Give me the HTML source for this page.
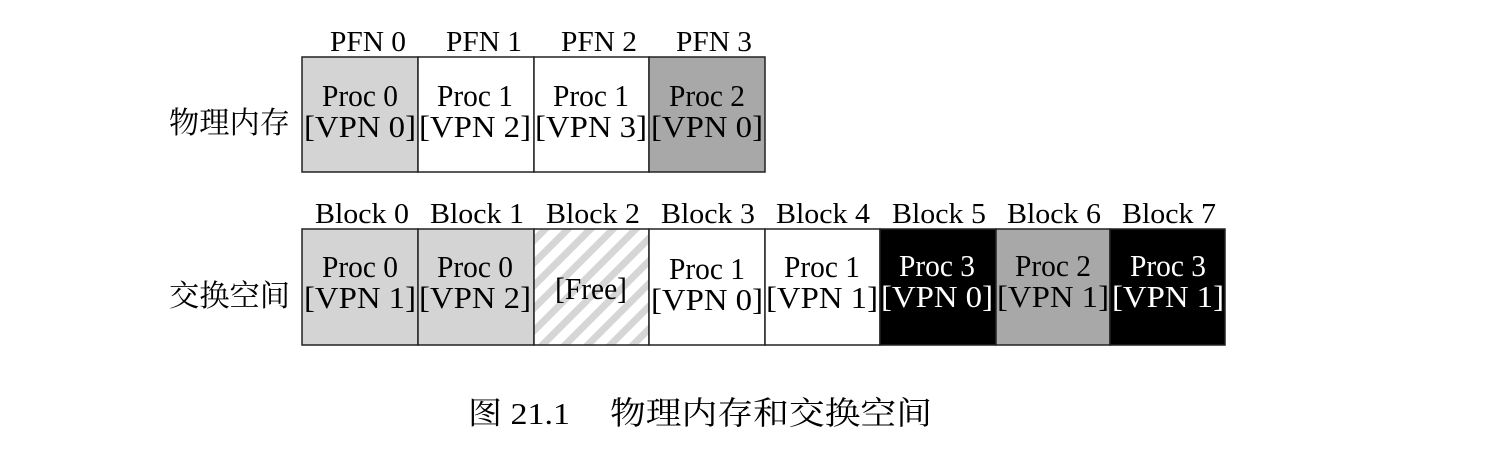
<!DOCTYPE html>
<html><head><meta charset="utf-8"><style>
html,body{margin:0;padding:0;background:#fff;}
svg{display:block;}
text{font-family:"Liberation Serif","Noto Serif CJK SC",serif;fill:#000;}
.c{font-family:"Liberation Serif","Noto Serif CJK SC","Noto Sans CJK SC",serif;}
</style></head><body>
<svg width="1507" height="462" viewBox="0 0 1507 462" xmlns="http://www.w3.org/2000/svg">
<defs>
<pattern id="st" patternUnits="userSpaceOnUse" width="16" height="16" patternTransform="rotate(45)">
<rect width="16" height="16" fill="#fff"/><rect width="7" height="16" fill="#d6d6d6"/>
</pattern>
</defs>
<g font-size="28" text-anchor="middle" lengthAdjust="spacingAndGlyphs">
<text x="368" y="51" textLength="76" lengthAdjust="spacingAndGlyphs">PFN 0</text>
<text x="484" y="51" textLength="76" lengthAdjust="spacingAndGlyphs">PFN 1</text>
<text x="599" y="51" textLength="76" lengthAdjust="spacingAndGlyphs">PFN 2</text>
<text x="714" y="51" textLength="76" lengthAdjust="spacingAndGlyphs">PFN 3</text>
</g>
<g stroke="#222" stroke-width="1.5">
<rect x="302" y="57" width="116" height="115" fill="#d4d4d4"/>
<rect x="418" y="57" width="116" height="115" fill="#fff"/>
<rect x="534" y="57" width="115" height="115" fill="#fff"/>
<rect x="649" y="57" width="116" height="115" fill="#a8a8a8"/>
</g>
<g font-size="31" text-anchor="middle">
<text x="360" y="106" textLength="76" lengthAdjust="spacingAndGlyphs">Proc 0</text><text x="360" y="137" textLength="112" lengthAdjust="spacingAndGlyphs">[VPN 0]</text>
<text x="475" y="106" textLength="76" lengthAdjust="spacingAndGlyphs">Proc 1</text><text x="475" y="137" textLength="112" lengthAdjust="spacingAndGlyphs">[VPN 2]</text>
<text x="591" y="106" textLength="76" lengthAdjust="spacingAndGlyphs">Proc 1</text><text x="591" y="137" textLength="112" lengthAdjust="spacingAndGlyphs">[VPN 3]</text>
<text x="707" y="106" textLength="76" lengthAdjust="spacingAndGlyphs">Proc 2</text><text x="707" y="137" textLength="112" lengthAdjust="spacingAndGlyphs">[VPN 0]</text>
</g>
<text class="c" x="169" y="133" font-size="30" textLength="121" lengthAdjust="spacingAndGlyphs">物理内存</text>
<g font-size="28" text-anchor="middle">
<text x="362" y="223" textLength="94" lengthAdjust="spacingAndGlyphs">Block 0</text>
<text x="477" y="223" textLength="94" lengthAdjust="spacingAndGlyphs">Block 1</text>
<text x="593" y="223" textLength="94" lengthAdjust="spacingAndGlyphs">Block 2</text>
<text x="708" y="223" textLength="94" lengthAdjust="spacingAndGlyphs">Block 3</text>
<text x="823" y="223" textLength="94" lengthAdjust="spacingAndGlyphs">Block 4</text>
<text x="939" y="223" textLength="94" lengthAdjust="spacingAndGlyphs">Block 5</text>
<text x="1054" y="223" textLength="94" lengthAdjust="spacingAndGlyphs">Block 6</text>
<text x="1169" y="223" textLength="94" lengthAdjust="spacingAndGlyphs">Block 7</text>
</g>
<g stroke="#222" stroke-width="1.5">
<rect x="302" y="229" width="116" height="116" fill="#d4d4d4"/>
<rect x="418" y="229" width="116" height="116" fill="#d4d4d4"/>
<rect x="534" y="229" width="115" height="116" fill="url(#st)"/>
<rect x="649" y="229" width="116" height="116" fill="#fff"/>
<rect x="765" y="229" width="115" height="116" fill="#fff"/>
<rect x="880" y="229" width="116" height="116" fill="#000"/>
<rect x="996" y="229" width="114" height="116" fill="#a8a8a8"/>
<rect x="1110" y="229" width="115" height="116" fill="#000"/>
</g>
<g font-size="31" text-anchor="middle">
<text x="360" y="277" textLength="76" lengthAdjust="spacingAndGlyphs">Proc 0</text><text x="360" y="308" textLength="112" lengthAdjust="spacingAndGlyphs">[VPN 1]</text>
<text x="475" y="277" textLength="76" lengthAdjust="spacingAndGlyphs">Proc 0</text><text x="475" y="308" textLength="112" lengthAdjust="spacingAndGlyphs">[VPN 2]</text>
<text x="591" y="299" textLength="72" lengthAdjust="spacingAndGlyphs">[Free]</text>
<text x="707" y="279" textLength="76" lengthAdjust="spacingAndGlyphs">Proc 1</text><text x="707" y="310" textLength="112" lengthAdjust="spacingAndGlyphs">[VPN 0]</text>
<text x="822" y="277" textLength="76" lengthAdjust="spacingAndGlyphs">Proc 1</text><text x="822" y="308" textLength="112" lengthAdjust="spacingAndGlyphs">[VPN 1]</text>
<text x="937" y="276" textLength="76" lengthAdjust="spacingAndGlyphs" style="fill:#fff">Proc 3</text><text x="937" y="307" textLength="112" lengthAdjust="spacingAndGlyphs" style="fill:#fff">[VPN 0]</text>
<text x="1053" y="276" textLength="76" lengthAdjust="spacingAndGlyphs">Proc 2</text><text x="1053" y="307" textLength="112" lengthAdjust="spacingAndGlyphs">[VPN 1]</text>
<text x="1168" y="276" textLength="76" lengthAdjust="spacingAndGlyphs" style="fill:#fff">Proc 3</text><text x="1168" y="307" textLength="112" lengthAdjust="spacingAndGlyphs" style="fill:#fff">[VPN 1]</text>
</g>
<text class="c" x="169" y="306" font-size="30" textLength="121" lengthAdjust="spacingAndGlyphs">交换空间</text>
<text class="c" x="468" y="424" font-size="31" textLength="102" lengthAdjust="spacingAndGlyphs">图 21.1</text>
<text class="c" x="610" y="424" font-size="32" textLength="322" lengthAdjust="spacingAndGlyphs">物理内存和交换空间</text>
</svg>
</body></html>
